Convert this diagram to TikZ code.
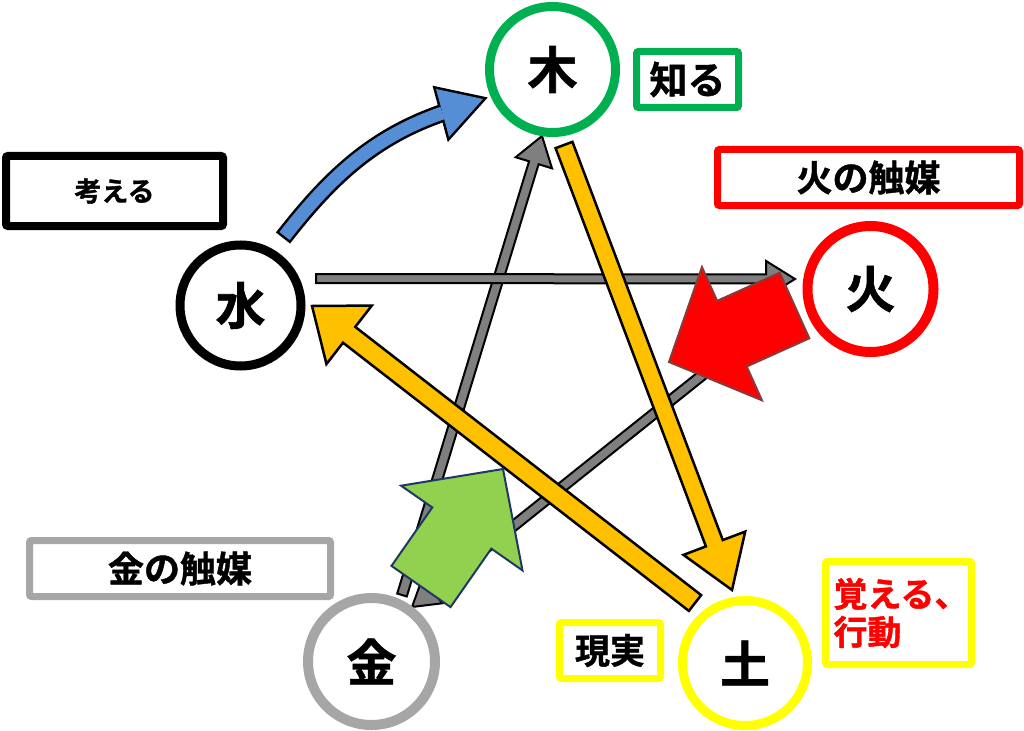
\documentclass[tikz,border=0pt]{standalone}
\usepackage{fontspec}
\setmainfont{Noto Sans CJK JP}[BoldFont={* Bold}, BoldFeatures={FakeBold=1.2}]
\usetikzlibrary{calc}
\definecolor{kgreen}{HTML}{00B050}
\definecolor{kred}{HTML}{FF0000}
\definecolor{kyellow}{HTML}{FFFF00}
\definecolor{kgray}{HTML}{A6A6A6}
\definecolor{agray}{HTML}{7F7F7F}
\definecolor{ayellow}{HTML}{FFC000}
\definecolor{ablue}{HTML}{558ED5}
\definecolor{agreen}{HTML}{92D050}
\definecolor{anavy}{HTML}{1F3864}
\definecolor{abrown}{HTML}{8B3A3A}
% #1 tail centre, #2 tip, #3 half shaft width, #4 half head width, #5 head length, #6 style
\newcommand\blockarrow[6]{%
  \coordinate (bahead) at ($(#2)!#5!(#1)$);
  \filldraw[#6] ($(#1)!#3!90:(#2)$) -- ($(bahead)!#3!90:(#2)$) -- ($(bahead)!#4!90:(#2)$)
     -- (#2) -- ($(bahead)!#4!-90:(#2)$) -- ($(bahead)!#3!-90:(#2)$) -- ($(#1)!#3!-90:(#2)$) -- cycle;}
\begin{document}
\begin{tikzpicture}[x=1pt,y=-1pt,
  ring/.style={circle, fill=white, inner sep=0pt, minimum size=#1,
    font=\bfseries\fontsize{50}{50}\selectfont},
  labelbox/.style={draw, line width=7pt, rounded corners=2pt, fill=white, inner sep=0pt,
    font=\bfseries\fontsize{#1}{#1}\selectfont},
  grayarrow/.style={fill=agray, draw=black, line width=2pt, line join=miter},
  yellowarrow/.style={fill=ayellow, draw=black, line width=2.5pt, line join=miter},
  greenarrow/.style={fill=agreen, draw=anavy, line width=2pt, line join=miter},
  redarrow/.style={fill=kred, draw=abrown, line width=2pt, line join=miter}]
\useasboundingbox[fill=white] (0,0) rectangle (1024,730);

% arrow end points
\coordinate (g1s) at (402,595);   \coordinate (g1t) at (542,136);
\coordinate (g2s) at (750,337);   \coordinate (g2t) at (412,607);
\coordinate (g3s) at (316,278.5); \coordinate (g3t) at (795,279);
\coordinate (y1s) at (564,145);   \coordinate (y1t) at (732,590);
\coordinate (y2s) at (695,603);   \coordinate (y2t) at (312,306);
\coordinate (gas) at (421,586.5); \coordinate (gat) at (503,469);
\coordinate (ras) at (794.5,305.5); \coordinate (rat) at (669,362);

% gray arrows
\blockarrow{g1s}{g1t}{5pt}{19pt}{28pt}{grayarrow}
\blockarrow{g2s}{g2t}{5pt}{16pt}{26pt}{grayarrow}
\blockarrow{g3s}{g3t}{4.5pt}{18pt}{29pt}{grayarrow}
% yellow arrows
\blockarrow{y1s}{y1t}{9pt}{33pt}{50pt}{yellowarrow}
\blockarrow{y2s}{y2t}{10pt}{37pt}{47pt}{yellowarrow}

% blue curved arrow
\coordinate (bs) at (283,238);
\coordinate (be) at (442.5,113);
\coordinate (bt) at (483,99);
\coordinate (bb1) at (436,89);
\coordinate (bb2) at (449,137);
\draw[line width=18pt, black] (bs) .. controls (329,179) and (371.6,137.5) .. (be);
\filldraw[black, line width=5pt, line join=miter] (bb1) -- (bt) -- (bb2) -- cycle;
\draw[line width=13pt, ablue, shorten <=2.5pt] (bs) .. controls (329,179) and (371.6,137.5) .. (be);
\fill[ablue] (bb1) -- (bt) -- (bb2) -- cycle;

% big catalyst arrows
\blockarrow{gas}{gat}{36pt}{74pt}{72pt}{greenarrow}
\blockarrow{ras}{rat}{36pt}{73pt}{69pt}{redarrow}

% element circles
\node[ring=126pt, draw=kgreen, line width=9pt] (ki) at (552.5,69.5) {木};
\node[ring=126pt, draw=kred, line width=10pt] (hi) at (870.5,289) {火};
\node[ring=121pt, draw=black, line width=9pt] (mizu) at (240.5,305.5) {水};
\node[ring=127pt, draw=kgray, line width=10pt] (kin) at (371.5,661.5) {金};
\node[ring=125pt, draw=kyellow, line width=9pt] (tsuchi) at (745,663) {土};

% label boxes
\node[labelbox=38, draw=kgreen, minimum width=102pt, minimum height=56pt] (shiru) at (687.5,79.5) {知る};
\node[labelbox=27, draw=black, line width=8pt, minimum width=217pt, minimum height=70pt] (kangaeru) at (114.5,191) {考える};
\node[labelbox=36, draw=kred, minimum width=302pt, minimum height=56pt] (hicat) at (868.5,177.5) {火の触媒};
\node[labelbox=36, draw=kgray, minimum width=301pt, minimum height=56pt] (kincat) at (180,568.5) {金の触媒};
\node[labelbox=35, draw=kyellow, minimum width=101pt, minimum height=56pt] (genjitsu) at (610,650.5) {現実};
\node[labelbox=33, draw=kyellow, text=kred, minimum height=103pt, align=left,
      text width=130pt, inner xsep=8pt, font=\bfseries\fontsize{34}{38}\selectfont] (oboeru) at (898.5,613) {覚える、\\行動};
\end{tikzpicture}
\end{document}
